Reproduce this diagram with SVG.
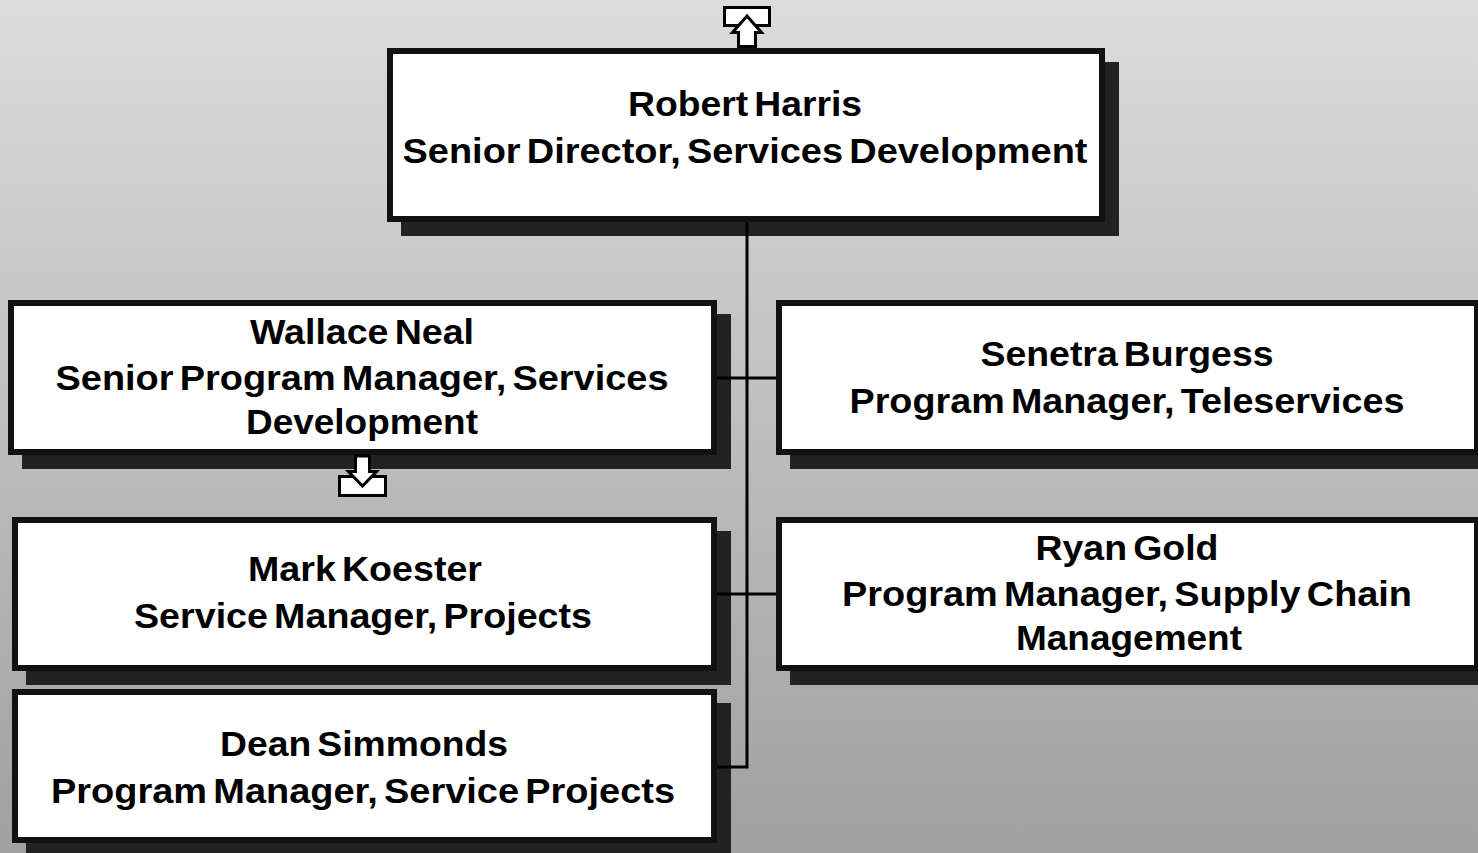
<svg xmlns="http://www.w3.org/2000/svg" width="1478" height="853" viewBox="0 0 1478 853">
<defs>
<linearGradient id="bg" x1="0" y1="0" x2="0" y2="1">
<stop offset="0" stop-color="#dcdcdc"/>
<stop offset="1" stop-color="#a0a0a0"/>
</linearGradient>
</defs>
<style>
.sh{fill:#222222;}
.box{fill:#ffffff;stroke:#111111;stroke-width:6;}
.t{font-family:"Liberation Sans",Arial,sans-serif;font-weight:bold;font-size:35px;fill:#000;text-anchor:middle;word-spacing:-4px;}
.ln{stroke:#000;stroke-width:3;fill:none;}
.ic{fill:#fff;stroke:#000;stroke-width:3;stroke-linejoin:miter;}
</style>
<rect x="0" y="0" width="1478" height="853" fill="url(#bg)"/>

<g id="node-robert">
<rect class="sh" x="401" y="62" width="718" height="174"/>
<rect class="box" x="390" y="51" width="712" height="168"/>
<text class="t" x="745" y="116" textLength="234" lengthAdjust="spacingAndGlyphs">Robert Harris</text>
<text class="t" x="745" y="163" textLength="685" lengthAdjust="spacingAndGlyphs">Senior Director, Services Development</text>
</g>

<g id="node-wallace">
<rect class="sh" x="22" y="314" width="709" height="155"/>
<rect class="box" x="11" y="303" width="703" height="149"/>
<text class="t" x="362" y="344" textLength="224" lengthAdjust="spacingAndGlyphs">Wallace Neal</text>
<text class="t" x="362" y="390" textLength="613" lengthAdjust="spacingAndGlyphs">Senior Program Manager, Services</text>
<text class="t" x="362" y="434" textLength="232" lengthAdjust="spacingAndGlyphs">Development</text>
</g>

<g id="node-senetra">
<rect class="sh" x="790" y="314" width="700" height="155"/>
<rect class="box" x="779" y="303" width="698" height="149"/>
<text class="t" x="1127" y="366" textLength="293" lengthAdjust="spacingAndGlyphs">Senetra Burgess</text>
<text class="t" x="1127" y="413" textLength="555" lengthAdjust="spacingAndGlyphs">Program Manager, Teleservices</text>
</g>

<g id="node-mark">
<rect class="sh" x="26" y="531" width="705" height="154"/>
<rect class="box" x="15" y="520" width="699" height="148"/>
<text class="t" x="365" y="581" textLength="234" lengthAdjust="spacingAndGlyphs">Mark Koester</text>
<text class="t" x="363" y="628" textLength="458" lengthAdjust="spacingAndGlyphs">Service Manager, Projects</text>
</g>

<g id="node-ryan">
<rect class="sh" x="790" y="531" width="700" height="154"/>
<rect class="box" x="779" y="520" width="698" height="148"/>
<text class="t" x="1127" y="560" textLength="183" lengthAdjust="spacingAndGlyphs">Ryan Gold</text>
<text class="t" x="1127" y="606" textLength="570" lengthAdjust="spacingAndGlyphs">Program Manager, Supply Chain</text>
<text class="t" x="1129" y="650" textLength="226" lengthAdjust="spacingAndGlyphs">Management</text>
</g>

<g id="node-dean">
<rect class="sh" x="26" y="703" width="705" height="160"/>
<rect class="box" x="15" y="692" width="699" height="148"/>
<text class="t" x="364" y="756" textLength="288" lengthAdjust="spacingAndGlyphs">Dean Simmonds</text>
<text class="t" x="363" y="803" textLength="624" lengthAdjust="spacingAndGlyphs">Program Manager, Service Projects</text>
</g>

<g id="connectors">
<path class="ln" d="M747 222 V767 H717"/>
<path class="ln" d="M717 378 H776"/>
<path class="ln" d="M717 594 H776"/>
</g>

<g id="icon-up">
<rect class="ic" x="724.5" y="7.5" width="45" height="18"/>
<polygon class="ic" points="747,16 761.5,32.5 755.5,32.5 755.5,46.5 738.5,46.5 738.5,32.5 732.5,32.5"/>
</g>

<g id="icon-down">
<rect class="ic" x="339.5" y="476.5" width="46" height="19"/>
<polygon class="ic" points="355.5,456 369.5,456 369.5,471.5 376.5,471.5 362.5,486 348.5,471.5 355.5,471.5"/>
</g>
</svg>
